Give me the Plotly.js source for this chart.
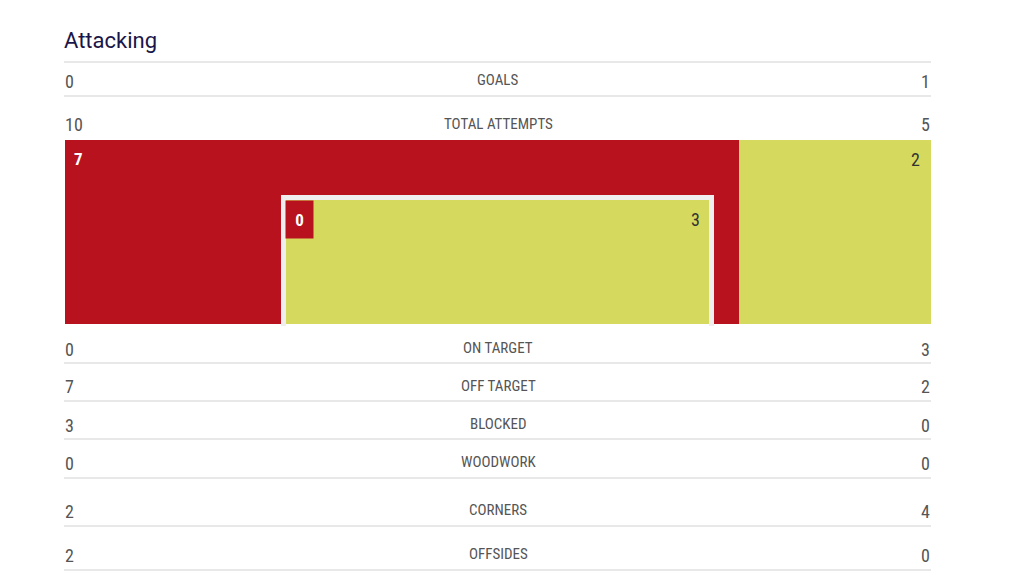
<!DOCTYPE html>
<html>
<head>
<meta charset="utf-8">
<script src="https://cdn.plot.ly/plotly-3.0.1.min.js"></script>
<style>html,body{margin:0;padding:0;background:#fff}#chart{width:1024px;height:580px}</style>
</head>
<body>
<div id="chart"></div>
<script>
// ---- data ----
const title = 'Attacking';
const categories = ['GOALS', 'TOTAL ATTEMPTS', 'ON TARGET', 'OFF TARGET', 'BLOCKED', 'WOODWORK', 'CORNERS', 'OFFSIDES'];
const homeValues = [0, 10, 0, 7, 3, 0, 2, 2];
const awayValues = [1, 5, 3, 2, 0, 0, 4, 0];
const homeTeam = 'Home';
const awayTeam = 'Away';

// ---- styles / layout helpers ----
const W = 1024, H = 580;
const RED = '#b8121f', YELLOW = '#d5da5f';
const COND = '"Roboto Condensed", "Liberation Sans Narrow", "DejaVu Sans Condensed", Roboto, sans-serif';
const px = x => x / W;
const py = y => 1 - y / H;

const rowY = [80, 124, 348, 386, 424, 462, 510, 554];   // text centre of each row (px)
const sepY = [62, 96, 363, 401, 439, 478, 526, 570];    // separator lines (px)
const LEFT = 64, RIGHT = 931;

const offIdx = categories.indexOf('OFF TARGET');
const onIdx = categories.indexOf('ON TARGET');

const traces = [
  // outer block: off target split
  {type: 'bar', orientation: 'h', y: [0.5], x: [homeValues[offIdx]], name: homeTeam,
   marker: {color: RED, line: {width: 0}}, xaxis: 'x', yaxis: 'y', hoverinfo: 'skip'},
  {type: 'bar', orientation: 'h', y: [0.5], x: [awayValues[offIdx]], name: awayTeam,
   marker: {color: YELLOW, line: {width: 0}}, xaxis: 'x', yaxis: 'y', hoverinfo: 'skip'},
  // inner goal: on target split
  {type: 'bar', orientation: 'h', y: [0.5], x: [homeValues[onIdx]], name: homeTeam,
   marker: {color: RED, line: {width: 0}}, xaxis: 'x2', yaxis: 'y2', hoverinfo: 'skip'},
  {type: 'bar', orientation: 'h', y: [0.5], x: [awayValues[onIdx]], name: awayTeam,
   marker: {color: YELLOW, line: {width: 0}}, xaxis: 'x2', yaxis: 'y2', hoverinfo: 'skip'}
];

const hidden = {visible: false, fixedrange: true, showgrid: false, zeroline: false};
const annotations = [];
const shapes = [];

// title
annotations.push({xref: 'paper', yref: 'paper', x: px(62), y: py(40), xanchor: 'left', yanchor: 'middle',
  text: title, showarrow: false, font: {family: 'Roboto, sans-serif', size: 22, color: '#1b1549'}});

categories.forEach((c, i) => {
  const y = py(rowY[i] + 1);
  annotations.push({xref: 'paper', yref: 'paper', x: px(LEFT - 1), y: y, xanchor: 'left', yanchor: 'middle',
    text: String(homeValues[i]), showarrow: false, font: {family: COND, size: 18, color: '#555'}});
  annotations.push({xref: 'paper', yref: 'paper', x: px(RIGHT + 1), y: y, xanchor: 'right', yanchor: 'middle',
    text: String(awayValues[i]), showarrow: false, font: {family: COND, size: 18, color: '#555'}});
  annotations.push({xref: 'paper', yref: 'paper', x: px(498), y: py(rowY[i]), xanchor: 'center', yanchor: 'middle',
    text: c, showarrow: false, font: {family: COND, size: 15, color: '#555'}});
});

sepY.forEach(y => shapes.push({type: 'line', xref: 'paper', yref: 'paper', x0: px(LEFT), x1: px(RIGHT),
  y0: py(y), y1: py(y), line: {color: '#e8e8e8', width: 2}, layer: 'below'}));

// block value labels
annotations.push({xref: 'x domain', yref: 'y domain', x: 0, y: 1, xanchor: 'left', yanchor: 'top', xshift: 7, yshift: -7,
  text: '<b>' + homeValues[offIdx] + '</b>', showarrow: false, font: {family: COND, size: 17, color: '#fff'}});
annotations.push({xref: 'x domain', yref: 'y domain', x: 1, y: 1, xanchor: 'right', yanchor: 'top', xshift: -9, yshift: -7,
  text: String(awayValues[offIdx]), showarrow: false, font: {family: COND, size: 18, color: '#333'}});
// goal frame (white posts)
shapes.push({type: 'path', xref: 'paper', yref: 'paper', layer: 'above',
  path: `M ${px(283.5)} ${py(326)} L ${px(283.5)} ${py(197.5)} L ${px(711.5)} ${py(197.5)} L ${px(711.5)} ${py(326)}`,
  line: {color: '#f0eeee', width: 5}});
annotations.push({xref: 'x2 domain', yref: 'y2 domain', x: 0, y: 1, xanchor: 'left', yanchor: 'top',
  width: 27, height: 37, borderpad: 0, bgcolor: RED, xshift: -1,
  text: '<b>' + homeValues[onIdx] + '</b>', showarrow: false, font: {family: COND, size: 17, color: '#fff'}});
annotations.push({xref: 'x2 domain', yref: 'y2 domain', x: 1, y: 1, xanchor: 'right', yanchor: 'top', xshift: -8, yshift: -7,
  text: String(awayValues[onIdx]), showarrow: false, font: {family: COND, size: 18, color: '#333'}});

const layout = {
  width: W, height: H, margin: {l: 0, r: 0, t: 0, b: 0},
  paper_bgcolor: '#fff', plot_bgcolor: 'rgba(0,0,0,0)',
  showlegend: false, barmode: 'stack', bargap: 0,
  xaxis: Object.assign({domain: [px(65), px(931)], range: [0, homeValues[offIdx] + awayValues[offIdx]]}, hidden),
  yaxis: Object.assign({domain: [py(324), py(140)], range: [0, 1]}, hidden),
  xaxis2: Object.assign({domain: [px(286), px(710)], range: [0, homeValues[onIdx] + awayValues[onIdx]], anchor: 'y2'}, hidden),
  yaxis2: Object.assign({domain: [py(324), py(200)], range: [0, 1], anchor: 'x2'}, hidden),
  annotations: annotations, shapes: shapes
};

Plotly.newPlot('chart', traces, layout, {displayModeBar: false, staticPlot: true});
</script>
</body>
</html>
